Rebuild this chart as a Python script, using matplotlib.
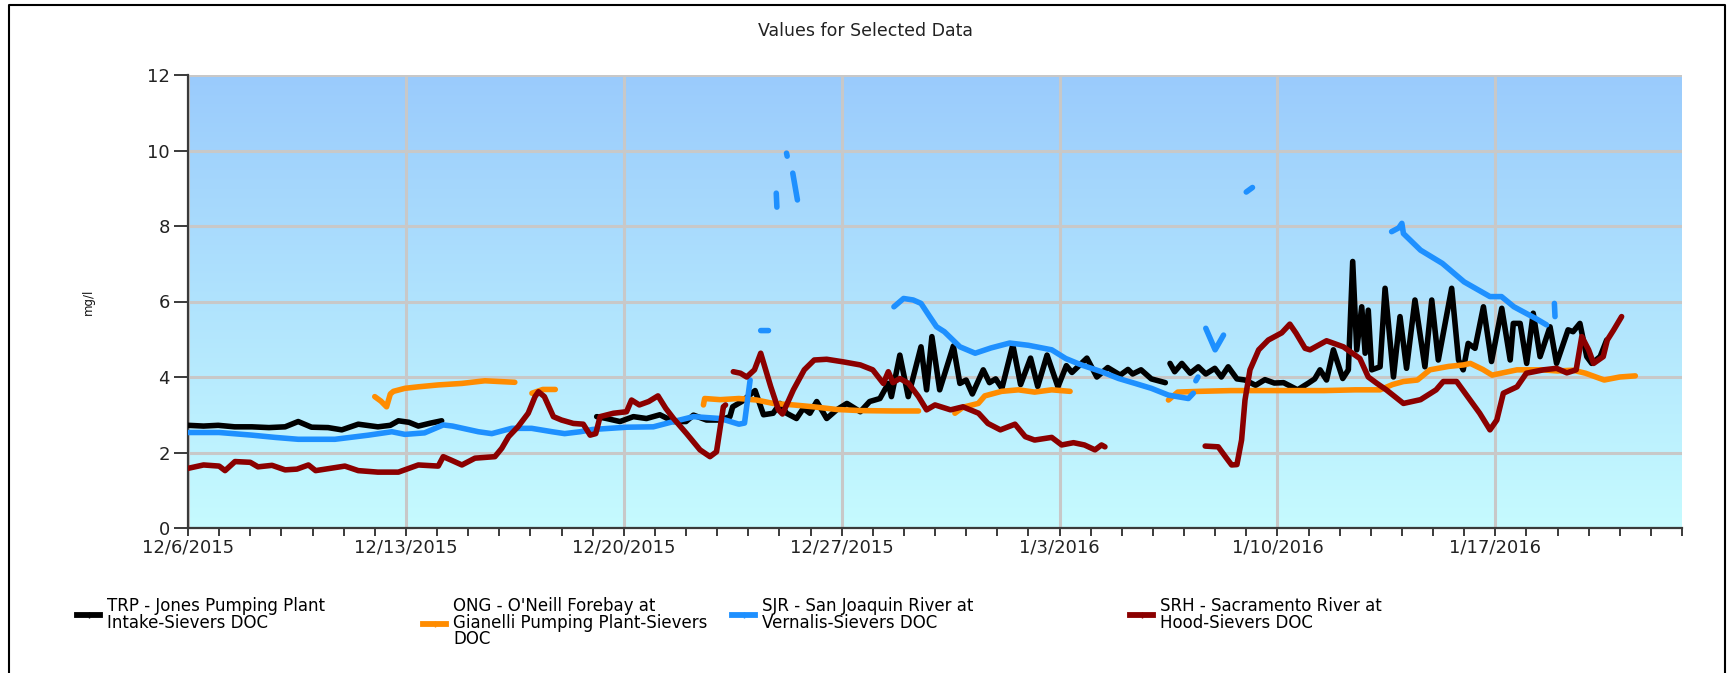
import numpy as np
import matplotlib
matplotlib.use("Agg")
import matplotlib.pyplot as plt
import matplotlib.dates as mdates
from matplotlib.lines import Line2D
from matplotlib.colors import LinearSegmentedColormap
from matplotlib.ticker import FuncFormatter
import datetime as dt

nan = np.nan
START = dt.datetime(2015, 12, 6)
END = dt.datetime(2016, 1, 23)

title = "Values for Selected Data"
ylabel = "mg/l"
series_names = [
    "TRP - Jones Pumping Plant\nIntake-Sievers DOC",
    "ONG - O'Neill Forebay at\nGianelli Pumping Plant-Sievers\nDOC",
    "SJR - San Joaquin River at\nVernalis-Sievers DOC",
    "SRH - Sacramento River at\nHood-Sievers DOC",
]
series_colors = ["#000000", "#FF8C00", "#1E90FF", "#8B0000"]

# days since 12/6/2015 and values (mg/l); nan marks gaps
trp_day = [0.0, 0.5, 0.97, 1.5, 2.05, 2.6, 3.12, 3.54, 3.97, 4.5, 4.94, 5.47, 6.1, 6.5, 6.76, 7.1, 7.4, 7.8, 8.15,
           8.3,
           13.13, 13.45, 13.88, 14.31, 14.73, 15.16, 15.6, 16.0, 16.24, 16.66, 17.1, 17.41, 17.5, 17.79, 18.22, 18.49,
           18.8, 19.02, 19.23, 19.55, 19.77, 19.98, 20.2, 20.52, 20.84, 21.17, 21.6, 21.9, 22.23, 22.5, 22.6, 22.87,
           23.14, 23.55, 23.73, 23.9, 24.15, 24.59, 24.8, 25.0, 25.2, 25.55, 25.75, 25.95, 26.15, 26.5, 26.75, 27.07,
           27.3, 27.6, 27.95, 28.22, 28.4, 28.88, 29.2, 29.55, 29.95, 30.2, 30.35, 30.62, 30.95, 31.4,
           31.45,
           31.55, 31.7, 31.93, 32.2, 32.46, 32.7, 32.99, 33.2, 33.42, 33.7, 33.96, 34.3, 34.6, 34.9, 35.2, 35.65, 36.0,
           36.2, 36.37, 36.58, 36.8, 37.1, 37.28, 37.42, 37.55, 37.71, 37.82, 37.92, 38.03, 38.3, 38.46, 38.73, 38.94,
           39.15, 39.42, 39.74, 39.96, 40.17, 40.6, 40.82, 40.97, 41.13, 41.35, 41.62, 41.88, 42.21, 42.48, 42.58,
           42.8, 43.01, 43.22, 43.44, 43.76, 43.97, 44.34, 44.5, 44.72, 44.94, 45.1, 45.37, 45.58]
trp_val = [2.72, 2.70, 2.72, 2.68, 2.68, 2.66, 2.68, 2.82, 2.67, 2.66, 2.60, 2.75, 2.68, 2.72, 2.84, 2.80, 2.70, 2.78, 2.84,
           nan,
           2.95, 2.90, 2.82, 2.95, 2.90, 3.00, 2.82, 2.82, 2.99, 2.86, 2.86, 2.95, 3.21, 3.35, 3.64, 3.00,
           3.04, 3.30, 3.04, 2.90, 3.17, 3.04, 3.35, 2.90, 3.13, 3.30, 3.08, 3.35, 3.43, 3.83, 3.48, 4.58,
           3.48, 4.80, 3.66, 5.07, 3.66, 4.82, 3.83, 3.92, 3.55, 4.19, 3.85, 3.95, 3.70, 4.85, 3.80, 4.50,
           3.75, 4.58, 3.74, 4.30, 4.12, 4.50, 4.00, 4.25, 4.05, 4.20, 4.08, 4.19, 3.95, 3.85,
           nan,
           4.36, 4.14, 4.36, 4.10, 4.27, 4.08, 4.23, 4.00, 4.27, 3.95, 3.92, 3.78, 3.93, 3.84, 3.85, 3.66, 3.84,
           3.95, 4.19, 3.92, 4.72, 3.96, 4.19, 7.06, 4.72, 5.86, 4.63, 5.77, 4.19, 4.27, 6.35, 4.00, 5.60,
           4.23, 6.04, 4.27, 6.04, 4.45, 6.35, 4.45, 4.19, 4.89, 4.76, 5.86, 4.41, 5.82, 4.45, 5.42,
           5.42, 4.36, 5.69, 4.54, 5.33, 4.36, 5.25, 5.20, 5.42, 4.54, 4.36, 4.54, 4.98]

ong_day = [6.0, 6.2, 6.38, 6.5, 6.6, 6.97, 7.4, 8.04, 8.8, 9.54, 10.0, 10.5,
           10.7,
           11.05, 11.4, 11.8,
           12.0,
           16.56, 16.6, 17.1, 17.7, 18.27, 18.8, 19.45, 20.1, 20.84, 21.6, 22.66, 23.47,
           24.0,
           24.64, 24.9, 25.39, 25.6, 26.14, 26.68, 27.2, 27.75, 28.34,
           29.0,
           31.5, 31.8, 32.5, 33.5, 34.5, 35.5, 36.5, 37.5, 38.3, 38.7, 39.05, 39.5, 39.9, 40.5, 40.98, 41.2,
           41.6, 41.9, 42.3, 42.7, 43.5, 44.0, 44.5, 44.9, 45.5, 46.0, 46.5]
ong_val = [3.48, 3.36, 3.21, 3.55, 3.62, 3.70, 3.74, 3.79, 3.83, 3.90, 3.88, 3.86,
           nan,
           3.57, 3.67, 3.67,
           nan,
           3.26, 3.43, 3.40, 3.43, 3.39, 3.30, 3.26, 3.21, 3.14, 3.11, 3.10, 3.10,
           nan,
           3.04, 3.20, 3.30, 3.50, 3.62, 3.66, 3.60, 3.66, 3.62,
           nan,
           3.39, 3.60, 3.62, 3.64, 3.64, 3.64, 3.64, 3.66, 3.66, 3.80, 3.88, 3.92, 4.19, 4.28, 4.32, 4.36,
           4.20, 4.05, 4.12, 4.19, 4.19, 4.16, 4.18, 4.10, 3.92, 4.00, 4.03]

sjr_day = [0.0, 1.0, 2.05, 2.8, 3.54, 4.72, 5.8, 6.55, 6.97, 7.6, 8.2, 8.5, 9.33, 9.76, 10.4, 11.04, 11.7, 12.1,
           12.6, 13.0, 14.1, 14.95, 15.6, 16.24, 17.1, 17.7, 17.88, 18.06,
           18.2,
           18.4, 18.65,
           18.8,
           18.9, 18.92,
           19.1,
           19.23, 19.25,
           19.35,
           19.43, 19.58,
           20.0,
           22.68, 22.99, 23.3, 23.55, 23.83, 24.05, 24.3, 24.8, 25.29, 25.8, 26.4, 27.0, 27.75, 28.2, 28.7, 29.35,
           29.9, 30.43, 30.95, 31.5, 32.14, 32.3,
           32.35,
           32.38, 32.45,
           32.5,
           32.7, 33.0, 33.27,
           33.5,
           34.0, 34.2,
           35.0,
           38.67, 38.9, 39.0, 39.05, 39.6, 40.3, 41.0, 41.83, 42.2, 42.6, 43.3, 43.65,
           43.8,
           43.9, 43.92]
sjr_val = [2.53, 2.53, 2.46, 2.40, 2.35, 2.35, 2.46, 2.55, 2.48, 2.52, 2.73, 2.70, 2.55, 2.50, 2.64, 2.64, 2.55, 2.50,
           2.55, 2.61, 2.67, 2.68, 2.82, 2.95, 2.90, 2.75, 2.78, 3.92,
           nan,
           5.23, 5.23,
           nan,
           8.87, 8.50,
           nan,
           9.93, 9.85,
           nan,
           9.40, 8.69,
           nan,
           5.86, 6.08, 6.04, 5.95, 5.60, 5.33, 5.20, 4.80, 4.63, 4.77, 4.90, 4.84, 4.72, 4.49, 4.32, 4.14,
           3.96, 3.83, 3.70, 3.52, 3.43, 3.57,
           nan,
           3.90, 4.00,
           nan,
           5.29, 4.72, 5.11,
           nan,
           8.90, 9.02,
           nan,
           7.85, 7.95, 8.07, 7.80, 7.36, 7.01, 6.52, 6.13, 6.13, 5.86, 5.55, 5.38,
           nan,
           5.95, 5.60]

srh_day = [0.0, 0.5, 1.0, 1.19, 1.51, 2.0, 2.25, 2.7, 3.12, 3.5, 3.87, 4.1, 5.04, 5.47, 6.1, 6.76, 7.4, 8.04, 8.2,
           8.45, 8.8, 9.22, 9.86, 10.08, 10.3, 10.6, 10.93, 11.15, 11.26, 11.45, 11.74, 12.0, 12.38, 12.7, 12.92,
           13.1, 13.24, 13.67, 14.09, 14.25, 14.5, 14.8, 15.1, 15.35, 15.6, 16.02, 16.45, 16.77, 16.98, 17.2, 17.27,
           17.4,
           17.52, 17.75, 17.95, 18.2, 18.4, 18.72, 18.97, 19.1, 19.45, 19.8, 20.12, 20.52, 21.06, 21.6, 22.0, 22.34,
           22.5, 22.65, 22.87, 23.15, 23.47, 23.73, 24.0, 24.5, 24.9, 25.4, 25.7, 26.1, 26.57, 26.9, 27.2, 27.75,
           28.07, 28.45, 28.8, 29.14, 29.35, 29.46,
           30.0,
           32.68, 33.1, 33.33, 33.53, 33.7, 33.85, 33.96, 34.12, 34.4, 34.71, 35.14, 35.4, 35.6, 35.89, 36.05, 36.58,
           37.12, 37.65, 37.92, 38.2, 38.5, 39.05, 39.6, 40.1, 40.33, 40.76, 41.19, 41.5, 41.83, 42.05, 42.26, 42.7,
           43.0, 43.55, 43.97, 44.3, 44.6, 44.78, 45.0, 45.16, 45.47, 45.6, 45.8, 46.06]
srh_val = [1.58, 1.67, 1.64, 1.52, 1.76, 1.74, 1.62, 1.66, 1.54, 1.56, 1.67, 1.52, 1.64, 1.52, 1.48, 1.48, 1.67, 1.64, 1.89,
           1.80, 1.67, 1.85, 1.89, 2.11, 2.42, 2.68, 3.04, 3.48, 3.61, 3.48, 2.95, 2.86, 2.77, 2.75, 2.46,
           2.50, 2.95, 3.04, 3.08, 3.39, 3.26, 3.35, 3.50, 3.17, 2.90, 2.50, 2.07, 1.89, 2.02, 3.21, 3.26,
           nan,
           4.14, 4.10, 4.00, 4.19, 4.63, 3.75, 3.13, 3.02, 3.66, 4.19, 4.45, 4.47, 4.40, 4.32, 4.19, 3.83,
           4.14, 3.85, 3.96, 3.83, 3.48, 3.13, 3.26, 3.13, 3.21, 3.04, 2.77, 2.60, 2.75, 2.42, 2.33, 2.40,
           2.20, 2.26, 2.20, 2.07, 2.20, 2.15,
           nan,
           2.17, 2.15, 1.89, 1.67, 1.68, 2.33, 3.39, 4.19, 4.72, 4.98, 5.17, 5.40, 5.16, 4.76, 4.72, 4.96,
           4.80, 4.49, 4.00, 3.83, 3.66, 3.30, 3.40, 3.66, 3.88, 3.88, 3.39, 3.04, 2.60, 2.86, 3.57, 3.74,
           4.10, 4.19, 4.23, 4.11, 4.19, 5.07, 4.72, 4.36, 4.54, 4.98, 5.24, 5.60]

series_days = [trp_day, ong_day, sjr_day, srh_day]
series_vals = [trp_val, ong_val, sjr_val, srh_val]

y_ticks = [0, 2, 4, 6, 8, 10, 12]

W, H = 1732, 673
fig = plt.figure(figsize=(W / 100, H / 100), dpi=100)
fig.patch.set_facecolor("white")

ax = fig.add_axes([188 / W, (H - 528) / H, 1494 / W, 453 / H])

# background gradient
cmap = LinearSegmentedColormap.from_list("bg", ["#9ACBFC", "#C6FBFF"])
grad = np.linspace(0, 1, 256).reshape(-1, 1)
ax.imshow(grad, cmap=cmap, extent=[0, 1, 0, 1], transform=ax.transAxes,
          aspect="auto", zorder=0, interpolation="bilinear")

base = mdates.date2num(START)
for days, vals, col in zip(series_days, series_vals, series_colors):
    x = base + np.asarray(days, dtype=float)
    ax.plot(x, np.asarray(vals, dtype=float), color=col, lw=4.0,
            solid_capstyle="round", solid_joinstyle="round", zorder=3)

ax.set_xlim(mdates.date2num(START), mdates.date2num(END))
ax.set_ylim(0, 12)
ax.set_yticks(y_ticks)
ax.xaxis.set_major_locator(mdates.WeekdayLocator(byweekday=mdates.SU))
ax.xaxis.set_minor_locator(mdates.DayLocator())
ax.xaxis.set_major_formatter(FuncFormatter(
    lambda v, p: "{d.month}/{d.day}/{d.year}".format(d=mdates.num2date(v))))

ax.set_axisbelow(True)
ax.grid(True, which="major", color="#C8C8C8", lw=2.2)
for s in ["top", "right"]:
    ax.spines[s].set_visible(False)
for s in ["left", "bottom"]:
    ax.spines[s].set_color("#3A3A3A")
    ax.spines[s].set_linewidth(1.6)

ax.tick_params(axis="y", which="major", length=10, width=1.4, color="#3A3A3A",
               labelsize=13, labelcolor="#222222", pad=3)
ax.tick_params(axis="x", which="both", length=6, width=1.4, color="#3A3A3A",
               labelsize=13, labelcolor="#222222", pad=1.5)
for lab in ax.get_xticklabels() + ax.get_yticklabels():
    lab.set_family("DejaVu Sans")

ax.set_ylabel(ylabel, fontsize=8.5, family="DejaVu Sans", color="#111111")
ax.yaxis.set_label_coords(-(188 - 95) / 1494, 0.5)

fig.text(866 / W, 1 - 31 / H, title, ha="center", va="center",
         fontsize=12.5, family="DejaVu Sans", color="#222222")

# legend: one block per series
leg_fs = 12
leg_text_x = [107, 453, 762, 1160]
offset = (1.4 + 0.4) * leg_fs * 100 / 72
for name, col, tx in zip(series_names, series_colors, leg_text_x):
    h = Line2D([], [], color=col, lw=4.2, marker="|", markersize=4, markeredgewidth=1)
    lg = fig.legend([h], [name], loc="upper left",
                    bbox_to_anchor=((tx - offset) / W, 1 - 597 / H),
                    frameon=False, fontsize=leg_fs, handlelength=1.4, handletextpad=0.4,
                    borderpad=0, borderaxespad=0, labelspacing=0)
    for t in lg.get_texts():
        t.set_family("DejaVu Sans")
        t.set_linespacing(0.9)

# outer frame (left, top, right)
fig.add_artist(Line2D([9 / W, 9 / W, 1725 / W, 1725 / W], [0, 1 - 5 / H, 1 - 5 / H, 0],
                      transform=fig.transFigure, color="black", lw=1.5))

fig.savefig("out.png", dpi=100)
